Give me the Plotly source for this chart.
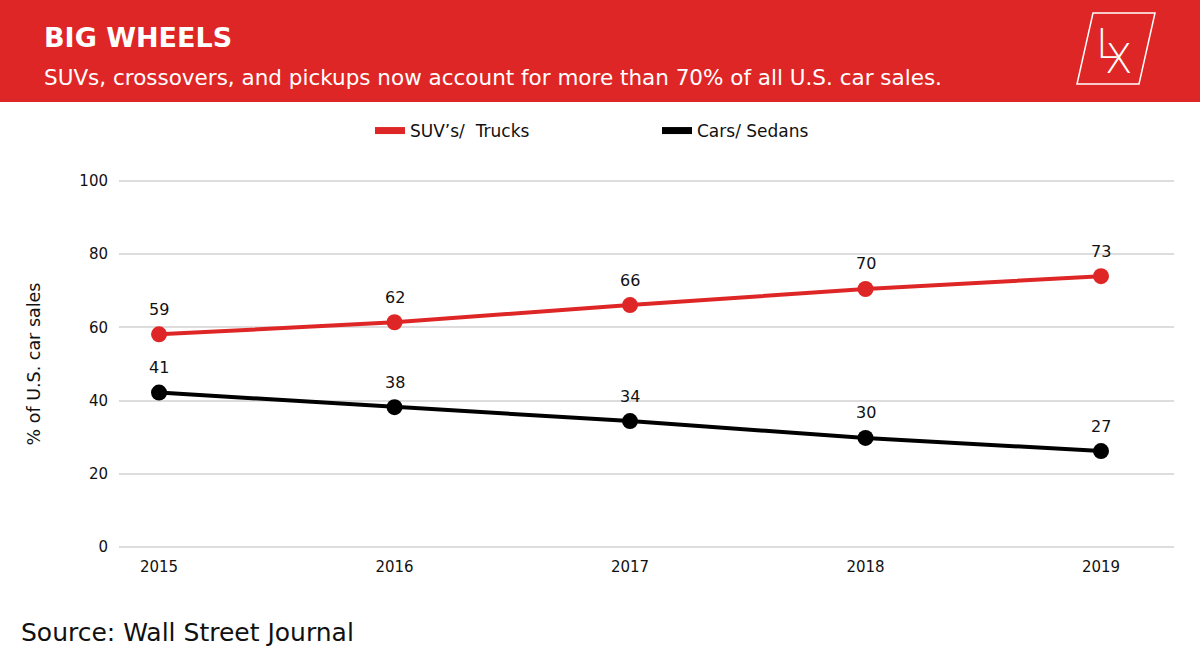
#!/usr/bin/env python3
"""
Big Wheels: share of U.S. car sales, SUVs/trucks vs cars/sedans.
Writes out.html (plotly.js inline).
"""
import plotly.graph_objects as go

# data
years = [2015, 2016, 2017, 2018, 2019]
suv_trucks = [58.1, 61.4, 66.1, 70.5, 74.0]
cars_sedans = [42.2, 38.2, 34.4, 29.8, 26.2]
suv_labels = ['59', '62', '66', '70', '73']
car_labels = ['41', '38', '34', '30', '27']
y_ticks = [0, 20, 40, 60, 80, 100]

RED = '#DF2626'
BLACK = '#000000'
GRID = '#DEDCDC'
FONT = 'DejaVu Sans'

W, H = 1200, 662
# plot area in pixels (y range padded a touch so the 0 and 100 gridlines show)
L, R, T, B = 119, 1174, 179, 549


def px(x):
    # pixel x -> paper x
    return (x - L) / (R - L)


def py(y):
    # pixel y -> paper y
    return (B - y) / (B - T)


fig = go.Figure()

for vals, color in [(suv_trucks, RED), (cars_sedans, BLACK)]:
    fig.add_trace(go.Scatter(
        x=years, y=vals, mode='lines+markers',
        line=dict(color=color, width=4), marker=dict(color=color, size=16),
        showlegend=False, cliponaxis=False,
    ))
# legend-only entries (thicker plain line like the original)
fig.add_trace(go.Scatter(x=[None], y=[None], mode='lines', name='SUV’s/  Trucks',
                         line=dict(color=RED, width=7)))
fig.add_trace(go.Scatter(x=[None], y=[None], mode='lines', name='Cars/ Sedans',
                         line=dict(color=BLACK, width=7)))

shapes = [
    # red header band
    dict(type='rect', xref='paper', yref='paper', x0=px(0), x1=px(W), y0=py(102), y1=py(0),
         fillcolor=RED, line=dict(width=0), layer='below'),
    # logo outline
    dict(type='path', xref='paper', yref='paper',
         path='M {},{} L {},{} L {},{} L {},{} Z'.format(
             px(1093), py(13), px(1155), py(13), px(1139), py(84), px(1077), py(84)),
         line=dict(color='white', width=1.5)),
]

annotations = [
    dict(text='<b>BIG WHEELS</b>', x=px(42), y=py(38), xref='paper', yref='paper',
         xanchor='left', yanchor='middle', showarrow=False,
         font=dict(family=FONT, size=27, color='white')),
    dict(text='SUVs, crossovers, and pickups now account for more than 70% of all U.S. car sales.',
         x=px(42), y=py(78), xref='paper', yref='paper', xanchor='left', yanchor='middle',
         showarrow=False, font=dict(family=FONT, size=21.5, color='white')),
    dict(text='L', x=px(1120), y=py(19), xref='paper', yref='paper', showarrow=False,
         font=dict(family=FONT, size=40, color='white', weight=200)),
    dict(text='X', x=px(1134), y=py(34), xref='paper', yref='paper', showarrow=False,
         font=dict(family=FONT, size=40, color='white', weight=200)),
    dict(text='Source: Wall Street Journal', x=px(19), y=py(632), xref='paper', yref='paper',
         xanchor='left', yanchor='middle', showarrow=False,
         font=dict(family=FONT, size=25, color='#111111')),
]

# value labels above each point
for vals, labels in [(suv_trucks, suv_labels), (cars_sedans, car_labels)]:
    for x, y, t in zip(years, vals, labels):
        annotations.append(dict(text=t, x=x, y=y, xref='x', yref='y', yshift=25,
                                showarrow=False, font=dict(family=FONT, size=16, color='#111111')))

fig.update_layout(
    width=W, height=H,
    margin=dict(l=L, r=W - R, t=T, b=H - B),
    paper_bgcolor='white', plot_bgcolor='white',
    font=dict(family=FONT, size=15, color='#111111'),
    shapes=shapes, annotations=annotations,
    legend=dict(orientation='h', x=px(370), y=py(131), xanchor='left', yanchor='middle',
                entrywidth=242, entrywidthmode='pixels', bgcolor='rgba(0,0,0,0)',
                font=dict(family=FONT, size=17, color='#111111')),
)
fig.update_xaxes(
    range=[2014.83, 2019.31], tickvals=years, ticktext=[str(y) for y in years],
    showgrid=False, zeroline=False, showline=False, ticks='', ticklabelstandoff=7,
    tickfont=dict(size=15),
)
fig.update_yaxes(
    range=[-0.55, 100.55], tickvals=y_ticks, showgrid=True, gridcolor=GRID, gridwidth=1.5,
    zeroline=False, showline=False, ticks='', ticklabelstandoff=10,
    tickfont=dict(size=15),
    title=dict(text='% of U.S. car sales', standoff=34, font=dict(size=17.5)),
)

# drop the default 8px body margin so the figure fills the window
fig.write_html('out.html', config={'displayModeBar': False},
               post_script="document.body.style.margin='0';")
